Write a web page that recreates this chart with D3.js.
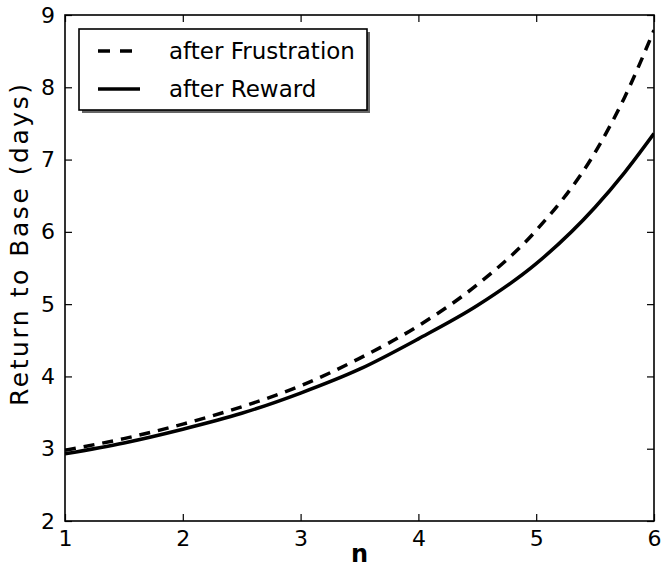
<!DOCTYPE html>
<html>
<head>
<meta charset="utf-8">
<script src="https://cdn.jsdelivr.net/npm/d3@7"></script>
<style>
  html, body { margin: 0; padding: 0; background: #fff; }
  svg { display: block; }
  text { font-family: "DejaVu Sans", sans-serif; fill: #000; }
</style>
</head>
<body>
<svg id="chart" width="664" height="573"></svg>
<script>
const nValues = [1, 1.5, 2, 2.5, 3, 3.5, 4, 4.5, 5, 5.5, 5.75, 6];
const afterFrustration = [2.98, 3.14, 3.34, 3.58, 3.87, 4.25, 4.70, 5.27, 6.02, 7.10, 7.86, 8.79];
const afterReward =      [2.93, 3.08, 3.27, 3.49, 3.77, 4.10, 4.52, 4.98, 5.56, 6.34, 6.82, 7.36];
const xTicks = [1, 2, 3, 4, 5, 6];
const yTicks = [2, 3, 4, 5, 6, 7, 8, 9];
const seriesNames = ["after Frustration", "after Reward"];

const svg = d3.select("#chart");
const L = 65, R = 654, T = 15, B = 521;
const x = d3.scaleLinear().domain([1, 6]).range([L, R]);
const y = d3.scaleLinear().domain([2, 9]).range([B, T]);

const series = [
  { name: seriesNames[0], values: afterFrustration, dash: "11,8" },
  { name: seriesNames[1], values: afterReward, dash: null }
];

const line = d3.line()
  .x(d => x(d[0])).y(d => y(d[1]))
  .curve(d3.curveMonotoneX);

svg.append("clipPath").attr("id", "clip").append("rect")
  .attr("x", L).attr("y", T).attr("width", R - L).attr("height", B - T);

const g = svg.append("g").attr("clip-path", "url(#clip)");
series.forEach(s => {
  g.append("path")
    .datum(nValues.map((n, i) => [n, s.values[i]]))
    .attr("d", line)
    .attr("fill", "none")
    .attr("stroke", "#000")
    .attr("stroke-width", 3.5)
    .attr("stroke-dasharray", s.dash);
});

// axes with inward ticks on all sides
const tickLen = 7;
const axisStyle = sel => {
  sel.select(".domain").remove();
  sel.selectAll(".tick line").attr("stroke", "#000").attr("stroke-width", 1.2);
  sel.selectAll("text").style("font-size", "22px").style("font-family", "DejaVu Sans, sans-serif");
};
svg.append("g").attr("transform", `translate(0,${B})`)
  .call(d3.axisBottom(x).tickValues(xTicks).tickSize(-tickLen).tickPadding(9).tickFormat(d3.format("d")))
  .call(axisStyle);
svg.append("g").attr("transform", `translate(0,${T})`)
  .call(d3.axisTop(x).tickValues(xTicks).tickSize(-tickLen).tickFormat(""))
  .call(axisStyle);
svg.append("g").attr("transform", `translate(${L},0)`)
  .call(d3.axisLeft(y).tickValues(yTicks).tickSize(-tickLen).tickPadding(10).tickFormat(d3.format("d")))
  .call(axisStyle);
svg.append("g").attr("transform", `translate(${R},0)`)
  .call(d3.axisRight(y).tickValues(yTicks).tickSize(-tickLen).tickFormat(""))
  .call(axisStyle);

svg.append("rect")
  .attr("x", L).attr("y", T).attr("width", R - L).attr("height", B - T)
  .attr("fill", "none").attr("stroke", "#000").attr("stroke-width", 1.6);

// axis labels
svg.append("text")
  .attr("x", (L + R) / 2).attr("y", 562)
  .attr("text-anchor", "middle")
  .style("font-size", "24px").style("font-weight", "bold")
  .text("n");
svg.append("text")
  .attr("transform", `translate(28,245) rotate(-90)`)
  .attr("text-anchor", "middle")
  .attr("textLength", 322).attr("lengthAdjust", "spacing")
  .style("font-size", "25px")
  .text("Return to Base (days)");

// legend
const lg = svg.append("g");
const lx = 79, ly = 29, lw = 288, lh = 81;
lg.append("rect").attr("x", lx + 3).attr("y", ly + 3).attr("width", lw).attr("height", lh)
  .attr("fill", "#666");
lg.append("rect").attr("x", lx).attr("y", ly).attr("width", lw).attr("height", lh)
  .attr("fill", "#fff").attr("stroke", "#000").attr("stroke-width", 1.6);
series.forEach((s, i) => {
  const yy = 51 + i * 38;
  lg.append("line").attr("x1", 98).attr("x2", 140).attr("y1", yy).attr("y2", yy)
    .attr("stroke", "#000").attr("stroke-width", 3.5).attr("stroke-dasharray", s.dash ? "12,10" : null);
  lg.append("text").attr("x", 169).attr("y", yy).attr("dy", "0.35em")
    .style("font-size", "23px").text(s.name);
});
</script>
</body>
</html>
